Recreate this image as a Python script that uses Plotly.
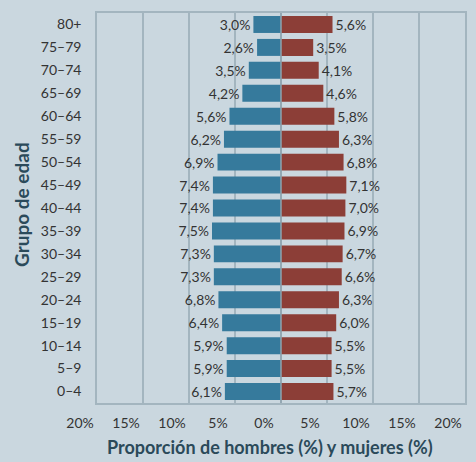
import plotly.graph_objects as go

# age groups, bottom to top
grupos = ["0–4", "5–9", "10–14", "15–19", "20–24", "25–29", "30–34", "35–39",
          "40–44", "45–49", "50–54", "55–59", "60–64", "65–69", "70–74", "75–79", "80+"]
hombres = [6.1, 5.9, 5.9, 6.4, 6.8, 7.3, 7.3, 7.5, 7.4, 7.4, 6.9, 6.2, 5.6, 4.2, 3.5, 2.6, 3.0]
mujeres = [5.7, 5.5, 5.5, 6.0, 6.3, 6.6, 6.7, 6.9, 7.0, 7.1, 6.8, 6.3, 5.8, 4.6, 4.1, 3.5, 5.6]

tick_vals = [-20, -15, -10, -5, 0, 5, 10, 15, 20]
tick_text = ["20%", "15%", "10%", "5%", "0%", "5%", "10%", "15%", "20%"]

def fmt(v):
    return f"{v:.1f}".replace(".", ",") + "%"

bg = "#cad7df"
grid = "#a3b5bf"
title_col = "#2b4a5a"

fig = go.Figure()
fig.add_trace(go.Bar(
    y=grupos, x=[-v for v in hombres], orientation="h",
    marker=dict(color="#367a9c", line=dict(width=0)),
    text=[fmt(v) for v in hombres], textposition="outside",
    textfont=dict(color="#333333", size=14), cliponaxis=False,
    name="Hombres", hoverinfo="skip"))
fig.add_trace(go.Bar(
    y=grupos, x=mujeres, orientation="h",
    marker=dict(color="#8c3e37", line=dict(width=0)),
    text=[fmt(v) for v in mujeres], textposition="outside",
    textfont=dict(color="#333333", size=14), cliponaxis=False,
    name="Mujeres", hoverinfo="skip"))

# zero line on top of the bars
fig.add_shape(type="line", x0=0, x1=0, y0=0, y1=1, xref="x", yref="paper",
              line=dict(color="#8fa4af", width=1.5), layer="above")

# axis titles
fig.add_annotation(text="<b>Proporción de hombres (%) y mujeres (%)</b>",
                   xref="paper", yref="paper", x=0.5, y=0, xshift=-11, yshift=-44,
                   xanchor="center", yanchor="middle", showarrow=False,
                   font=dict(size=18, color=title_col))
fig.add_annotation(text="<b>Grupo de edad</b>", textangle=-90,
                   xref="paper", yref="paper", x=0, y=0.5, xshift=-76, yshift=3,
                   xanchor="center", yanchor="middle", showarrow=False,
                   font=dict(size=19, color=title_col))

fig.update_layout(
    width=476, height=462,
    margin=dict(l=97, r=11, t=13, b=59, autoexpand=False),
    paper_bgcolor=bg, plot_bgcolor=bg,
    barmode="overlay", bargap=0.26,
    showlegend=False,
    font=dict(family="Lato", color="#333333", size=13),
    xaxis=dict(
        range=[-20, 20], tickvals=tick_vals, ticktext=tick_text,
        showgrid=True, gridcolor=grid, gridwidth=1.5,
        zeroline=False, showline=True, linecolor=grid, linewidth=1.5, mirror=True,
        ticks="", ticklabelshift=-17, ticklabelstandoff=6, automargin=False,
        tickfont=dict(size=14, color="#333333"),
    ),
    yaxis=dict(
        categoryorder="array", categoryarray=grupos,
        range=[-0.5, 16.5],
        showgrid=False, zeroline=False,
        showline=True, linecolor=grid, linewidth=1.5, mirror=True,
        ticks="", ticklabelstandoff=11, automargin=False,
        tickfont=dict(size=14, color="#333333"),
    ),
)

fig.write_html("out.html", config={"displayModeBar": False},
               post_script="document.body.style.margin='0';")
